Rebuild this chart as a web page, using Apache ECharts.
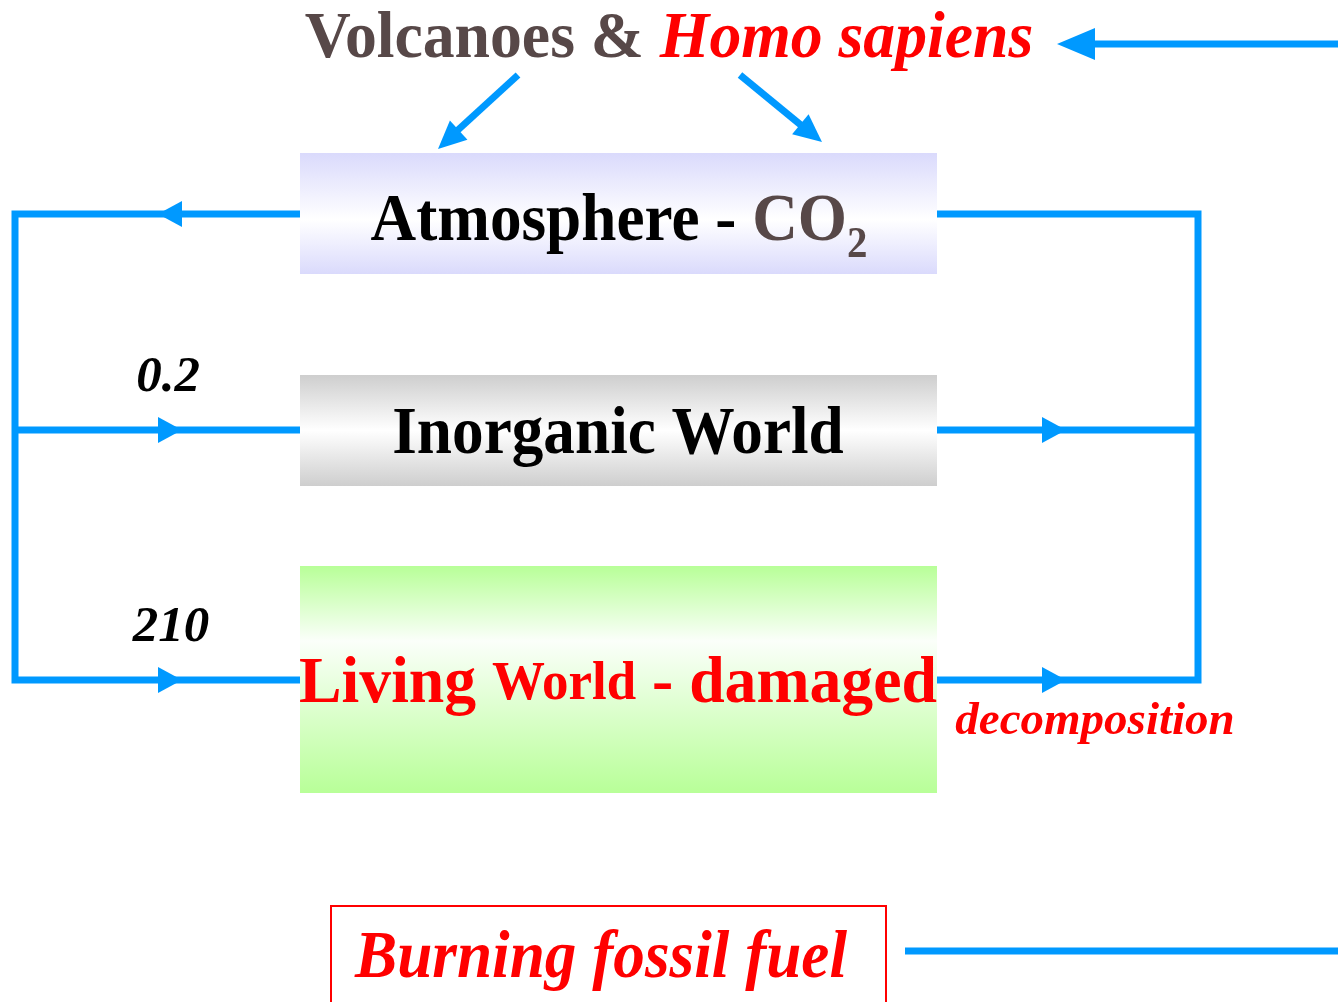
<!DOCTYPE html>
<html>
<head>
<meta charset="utf-8">
<title>Carbon cycle</title>
<script src="https://cdn.jsdelivr.net/npm/echarts@6.0.0/dist/echarts.min.js"></script>
<style>
  html, body { margin: 0; padding: 0; background: #fff; }
  #main { width: 1338px; height: 1002px; }
</style>
</head>
<body>
<div id="main"></div>
<script>
// boxes (diagram units = page pixels)
const boxNames = ['Atmosphere', 'Inorganic World', 'Living World', 'Burning fossil fuel'];
const boxLeft = [300, 300, 300, 331];
const boxRight = [937, 937, 937, 886];
const boxTop = [153, 375, 566, 906];
const boxBottom = [274, 486, 793, 1012];

// flow lines, each a list of [x, y] points
const flowPaths = [
  [[300, 214], [15, 214], [15, 680], [300, 680]],
  [[15, 430], [300, 430]],
  [[937, 214], [1198, 214], [1198, 680], [937, 680]],
  [[937, 430], [1198, 430]],
  [[518, 75], [447, 140]],
  [[740, 75], [813, 135]],
  [[1338, 44], [1085, 44]],
  [[905, 951], [1338, 951]]
];

// arrow heads: tip position and pointing angle (deg, screen coords)
const arrowX = [158, 182, 182, 1066, 1066, 438, 822, 1057];
const arrowY = [214, 430, 680, 430, 680, 149, 142, 44];
const arrowAngle = [180, 0, 0, 0, 0, 137.6, 39.3, 180];

// text labels
const labelText = [
  '{b|Volcanoes & }{r|Homo sapiens}',
  '{k|Atmosphere - }{c|CO}{s|2}',
  '{k|Inorganic World}',
  '{r|Living }{rs|World}{r| - damaged}',
  '{n|0.2}',
  '{n|210}',
  '{d|decomposition}',
  '{f|Burning fossil fuel}'
];
const labelX = [669, 619, 618, 618, 168, 171, 1095, 601];
const labelY = [40, 222, 435, 685, 378, 628, 722, 959];

// ---- styles ----
const BLUE = '#0099ff';
const RED = '#ff0000';
const BROWN = '#574848';
const SERIF = '"Liberation Serif", "Times New Roman", serif';

const boxFill = [
  new echarts.graphic.LinearGradient(0, 0, 0, 1, [
    { offset: 0, color: '#dadafc' },
    { offset: 0.55, color: '#ffffff' },
    { offset: 1, color: '#dadafc' }
  ]),
  new echarts.graphic.LinearGradient(0, 0, 0, 1, [
    { offset: 0, color: '#cecece' },
    { offset: 0.5, color: '#ffffff' },
    { offset: 1, color: '#cecece' }
  ]),
  new echarts.graphic.LinearGradient(0, 0, 0, 1, [
    { offset: 0, color: '#b8ff98' },
    { offset: 0.33, color: '#fbfffa' },
    { offset: 1, color: '#b8ff98' }
  ]),
  '#ffffff'
];
const boxStroke = [null, null, null, RED];

const arrowLen = [24, 24, 24, 24, 24, 28, 28, 38];
const arrowWid = [26, 26, 26, 26, 26, 26, 26, 32];

const labelScale = [0.98, 0.93, 0.93, 0.98, 1, 1, 1, 0.93];

// zrender 文字样式用 fill 而不是 color
const rich = {
  b: { fontFamily: SERIF, fontWeight: 'bold', fontSize: 65, fill: BROWN },
  r: { fontFamily: SERIF, fontWeight: 'bold', fontSize: 65, fill: RED },
  rs: { fontFamily: SERIF, fontWeight: 'bold', fontSize: 54, fill: RED },
  k: { fontFamily: SERIF, fontWeight: 'bold', fontSize: 68, fill: '#000' },
  c: { fontFamily: SERIF, fontWeight: 'bold', fontSize: 68, fill: BROWN },
  s: { fontFamily: SERIF, fontWeight: 'bold', fontSize: 44, fill: BROWN, padding: [48, 0, 0, 0] },
  n: { fontFamily: SERIF, fontWeight: 'bold', fontStyle: 'italic', fontSize: 51, fill: '#000' },
  d: { fontFamily: SERIF, fontWeight: 'bold', fontStyle: 'italic', fontSize: 47, fill: RED },
  f: { fontFamily: SERIF, fontWeight: 'bold', fontStyle: 'italic', fontSize: 68, fill: RED }
};
// 标题里 Homo sapiens 是斜体
const titleRich = Object.assign({}, rich, {
  r: { fontFamily: SERIF, fontWeight: 'bold', fontStyle: 'italic', fontSize: 65, fill: RED }
});

const chart = echarts.init(document.getElementById('main'), null, { renderer: 'canvas' });

chart.setOption({
  animation: false,
  backgroundColor: '#ffffff',
  grid: { left: 0, right: 0, top: 0, bottom: 0 },
  xAxis: { type: 'value', min: 0, max: 1338, show: false },
  yAxis: { type: 'value', min: 0, max: 1002, inverse: true, show: false },
  series: [
    {
      // 方框
      type: 'custom',
      z: 1,
      clip: false,
      data: boxNames.map((n, i) => [i]),
      renderItem(params, api) {
        const i = params.dataIndex;
        const p0 = api.coord([boxLeft[i], boxTop[i]]);
        const p1 = api.coord([boxRight[i], boxBottom[i]]);
        return {
          type: 'rect',
          shape: { x: p0[0], y: p0[1], width: p1[0] - p0[0], height: p1[1] - p0[1] },
          style: { fill: boxFill[i], stroke: boxStroke[i], lineWidth: boxStroke[i] ? 2 : 0 }
        };
      }
    },
    {
      // 连线
      type: 'custom',
      z: 2,
      clip: false,
      data: flowPaths.map((p, i) => [i]),
      renderItem(params, api) {
        const pts = flowPaths[params.dataIndex].map(p => api.coord(p));
        return {
          type: 'polyline',
          shape: { points: pts },
          style: { stroke: BLUE, lineWidth: 7, fill: null, lineJoin: 'miter', lineCap: 'butt' }
        };
      }
    },
    {
      // 箭头
      type: 'custom',
      z: 3,
      clip: false,
      data: arrowX.map((x, i) => [x, arrowY[i]]),
      renderItem(params, api) {
        const i = params.dataIndex;
        const tip = api.coord([api.value(0), api.value(1)]);
        const a = arrowAngle[i] * Math.PI / 180;
        const dx = Math.cos(a), dy = Math.sin(a);
        const L = arrowLen[i], W = arrowWid[i] / 2;
        const bx = tip[0] - dx * L, by = tip[1] - dy * L;
        return {
          type: 'polygon',
          shape: { points: [tip, [bx - dy * W, by + dx * W], [bx + dy * W, by - dx * W]] },
          style: { fill: BLUE }
        };
      }
    },
    {
      // 文字
      type: 'custom',
      z: 4,
      clip: false,
      data: labelX.map((x, i) => [x, labelY[i]]),
      renderItem(params, api) {
        const i = params.dataIndex;
        const p = api.coord([api.value(0), api.value(1)]);
        return {
          type: 'text',
          x: p[0],
          y: p[1],
          scaleX: labelScale[i],
          style: {
            text: labelText[i],
            rich: i === 0 ? titleRich : rich,
            align: 'center',
            verticalAlign: 'middle'
          }
        };
      }
    }
  ]
});
</script>
</body>
</html>
